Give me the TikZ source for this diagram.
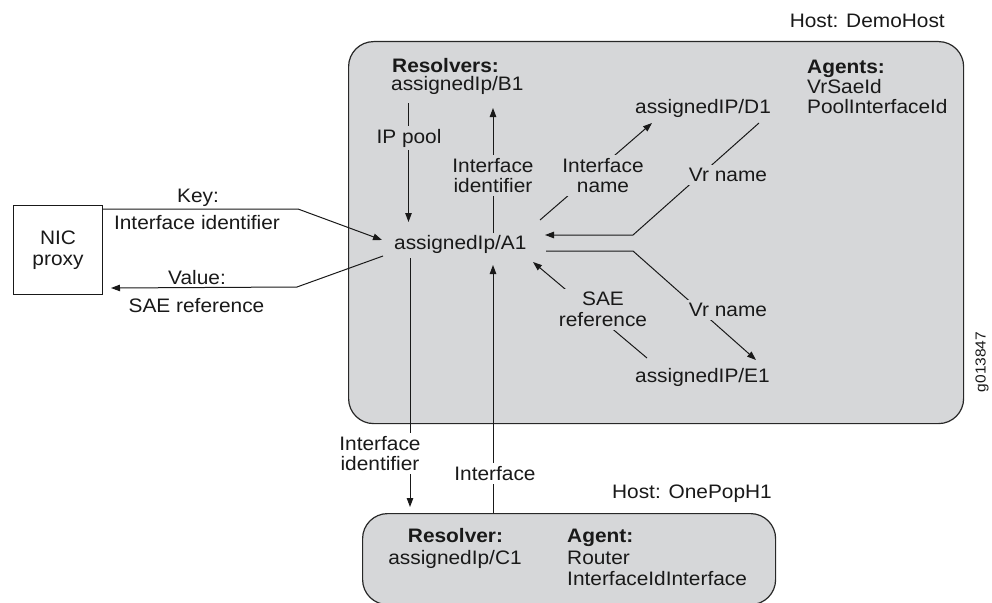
\documentclass[tikz,border=0pt]{standalone}
\usepackage{fontspec}
\setmainfont{Liberation Sans}[FakeStretch=1.07]
\usetikzlibrary{arrows.meta,calc}
\definecolor{boxgray}{RGB}{214,215,217}
\definecolor{edge}{RGB}{40,40,40}
\definecolor{ink}{RGB}{25,25,25}

\begin{document}
\begin{tikzpicture}[x=1pt,y=-1pt,
  every node/.style={font=\fontsize{19.5}{20.5}\selectfont, text=ink, inner sep=0pt},
  hdr/.style={font=\fontsize{19.5}{20.5}\selectfont\bfseries},
  host/.style={draw=edge, line width=1.2pt, fill=boxgray, rounded corners=25pt},
  conn/.style={draw=ink, line width=1pt},
  arr/.style={conn, -{Triangle[length=9pt,width=6.5pt]}},
  lbl/.style={fill=boxgray, inner sep=3pt, align=center},
  wlbl/.style={fill=white, inner sep=3pt, align=center},
]
\useasboundingbox (0,0) rectangle (992,602);

% host containers
\node[host, minimum width=615, minimum height=382, anchor=north west] (demo) at (348,41) {};
\node[host, minimum width=413, minimum height=91, anchor=north west] (pop) at (362,513) {};
\node[anchor=base east] (demohost) at (945,28) {Host: DemoHost};
\node[anchor=base east] (pophost) at (772,498) {Host: OnePopH1};

% NIC proxy
\node[draw=ink, line width=1pt, minimum width=89, minimum height=89, align=center, anchor=north west] (nic) at (13,205) {NIC\\proxy};

% resolvers and agents on DemoHost
\node[hdr, anchor=base west] (reshdr) at (392,72) {Resolvers:};
\node[anchor=base west] (B1) at (391,90) {assignedIp/B1};
\node[anchor=base west] (A1) at (394,249.5) {assignedIp/A1};
\node[anchor=base west] (D1) at (635,113) {assignedIP/D1};
\node[anchor=base west] (E1) at (635,382.5) {assignedIP/E1};
\node[hdr, anchor=base west] (agthdr) at (807,73) {Agents:};
\node[anchor=base west] (ag1) at (807,93.5) {VrSaeId};
\node[anchor=base west] (ag2) at (807,113) {PoolInterfaceId};

% resolver and agent on OnePopH1
\node[hdr, anchor=base] (rhdr) at (455.5,542) {Resolver:};
\node[anchor=base] (C1) at (455,564) {assignedIp/C1};
\node[hdr, anchor=base west] (ahdr) at (567,542) {Agent:};
\node[anchor=base west] (pa1) at (567,564) {Router};
\node[anchor=base west] (pa2) at (567,585) {InterfaceIdInterface};

% figure id
\node[font=\fontsize{14.5}{16}\selectfont, rotate=90] (gid) at (982,362) {g013847};

% NIC proxy key / value exchange
\draw[arr] ($(nic.north east)+(0,4)$) -- ++(195,0) -- ($(A1.base west)+(-12,-9.5)$);
\draw[arr] ($(A1.base west)+(-11,6.5)$) -- ++(-86,31) -- ($(nic.south east)+(8,-7)$);
\node[anchor=base] (keyl) at (198,202) {Key:};
\node[anchor=base] (keyv) at (197,229.5) {Interface identifier};
\node[anchor=base] (vall) at (197,284) {Value:};
\node[anchor=base] (valv) at (196.5,312) {SAE reference};

% connectors inside DemoHost
\draw[arr] ($(B1.base west)+(17.5,13)$) -- ($(A1.base west)+(14.5,-27.5)$);
\draw[arr] ($(A1.base west)+(99,-16.5)$) -- ($(B1.base west)+(102,18)$);
\draw[arr] ($(A1.base west)+(146,-29.5)$) -- ($(D1.base west)+(17,10)$);
\draw[arr] ($(D1.base west)+(124,10)$) -- ++(-126,112) -- ($(A1.base west)+(151,-14.5)$);
\draw[arr] ($(A1.base west)+(152,1.5)$) -- ++(87,0) -- ($(E1.base west)+(121,-22.5)$);
\draw[arr] ($(E1.base west)+(12,-24.5)$) -- ($(A1.base west)+(139,12.5)$);

% connectors between hosts
\draw[arr] ($(A1.base west)+(16,8.5)$) -- ($(pop.north west)+(48,-6)$);
\draw[arr] ($(pop.north west)+(131,0)$) -- ($(A1.base west)+(99,15.5)$);

% connector labels
\node[lbl] (l1) at (409,138) {IP pool};
\node[lbl] (l2) at (493,175.5) {Interface\\identifier};
\node[lbl] (l3) at (603,175.5) {Interface\\name};
\node[lbl] (l4) at (728,175) {Vr name};
\node[lbl] (l5) at (728,310) {Vr name};
\node[lbl] (l6) at (603,309.5) {SAE\\reference};
\node[wlbl] (l7) at (380,453.5) {Interface\\identifier};
\node[wlbl] (l8) at (495,473.5) {Interface};
\end{tikzpicture}
\end{document}
